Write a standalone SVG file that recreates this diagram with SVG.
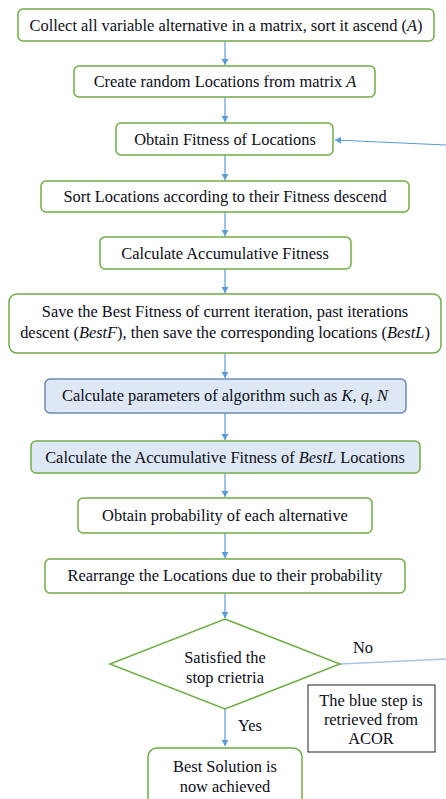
<svg xmlns="http://www.w3.org/2000/svg" width="446" height="799" viewBox="0 0 446 799">
<defs>
<marker id="ah" markerWidth="8" markerHeight="8" refX="6" refY="3.5" orient="auto" markerUnits="userSpaceOnUse">
<path d="M0,0 L6,3.5 L0,7 Z" fill="#5B9BD5"/>
</marker>
<style>
.box{fill:#FFFFFF;stroke:#70AD47;stroke-width:1.5}
.blue{fill:#DEE8F5;stroke:#6A8BB8;stroke-width:1.5}
.bluegreen{fill:#DEE8F5;stroke:#70AD47;stroke-width:1.5}
.t{font-family:'Liberation Serif','DejaVu Serif',serif;font-size:16.4px;fill:#0D0D1A;text-anchor:middle}
.c{stroke:#5B9BD5;stroke-width:1.2;fill:none}
</style>
</defs>
<rect width="446" height="799" fill="#FFFFFF"/>
<g id="connectors">
<line class="c" x1="225" y1="41" x2="225" y2="65" marker-end="url(#ah)"/>
<line class="c" x1="225" y1="97" x2="225" y2="122" marker-end="url(#ah)"/>
<line class="c" x1="446" y1="145" x2="335" y2="140" marker-end="url(#ah)"/>
<line class="c" x1="225" y1="155" x2="225" y2="180" marker-end="url(#ah)"/>
<line class="c" x1="225" y1="212" x2="225" y2="236" marker-end="url(#ah)"/>
<line class="c" x1="225" y1="269" x2="225" y2="293" marker-end="url(#ah)"/>
<line class="c" x1="225" y1="353" x2="225" y2="378" marker-end="url(#ah)"/>
<line class="c" x1="225" y1="413" x2="225" y2="440" marker-end="url(#ah)"/>
<line class="c" x1="225" y1="473" x2="225" y2="497" marker-end="url(#ah)"/>
<line class="c" x1="225" y1="533" x2="225" y2="558" marker-end="url(#ah)"/>
<line class="c" x1="225" y1="593" x2="225" y2="618" marker-end="url(#ah)"/>
<line class="c" x1="225" y1="709" x2="225" y2="746" marker-end="url(#ah)"/>
<line x1="340" y1="664" x2="446" y2="659" stroke="#A9C4E8" stroke-width="1.5"/>
<text class="t" x="363" y="653">No</text>
<text class="t" x="250" y="731">Yes</text>
</g>
<g id="n1">
<rect class="box" x="18" y="9" width="416" height="32" rx="5"/>
<text class="t" x="226" y="31">Collect all variable alternative in a matrix, sort it ascend (<tspan font-style="italic">A</tspan>)</text>
</g>
<g id="n2">
<rect class="box" x="74" y="66" width="301" height="31" rx="5"/>
<text class="t" x="225" y="87">Create random Locations from matrix <tspan font-style="italic">A</tspan></text>
</g>
<g id="n3">
<rect class="box" x="116" y="123" width="217" height="32" rx="5"/>
<text class="t" x="225" y="145">Obtain Fitness of Locations</text>
</g>
<g id="n4">
<rect class="box" x="41" y="181" width="368" height="31" rx="5"/>
<text class="t" x="225" y="202">Sort Locations according to their Fitness descend</text>
</g>
<g id="n5">
<rect class="box" x="100" y="237" width="251" height="32" rx="5"/>
<text class="t" x="225" y="259">Calculate Accumulative Fitness</text>
</g>
<g id="n6">
<rect class="box" x="9" y="294" width="432" height="59" rx="8"/>
<text class="t" x="225" y="317">Save the Best Fitness of current iteration, past iterations</text>
<text class="t" x="225" y="338">descent (<tspan font-style="italic">BestF</tspan>), then save the corresponding locations (<tspan font-style="italic">BestL</tspan>)</text>
</g>
<g id="n7">
<rect class="blue" x="45" y="379" width="361" height="34" rx="5"/>
<text class="t" x="225" y="401">Calculate parameters of algorithm such as <tspan font-style="italic">K</tspan>, <tspan font-style="italic">q</tspan>, <tspan font-style="italic">N</tspan></text>
</g>
<g id="n8">
<rect class="bluegreen" x="31" y="441" width="389" height="32" rx="5"/>
<text class="t" x="225" y="463">Calculate the Accumulative Fitness of <tspan font-style="italic">BestL</tspan> Locations</text>
</g>
<g id="n9">
<rect class="box" x="78" y="498" width="294" height="35" rx="5"/>
<text class="t" x="225" y="521">Obtain probability of each alternative</text>
</g>
<g id="n10">
<rect class="box" x="45" y="559" width="360" height="34" rx="5"/>
<text class="t" x="225" y="581">Rearrange the Locations due to their probability</text>
</g>
<g id="n11">
<polygon points="225,619 340,664 225,709 110,664" fill="#FFFFFF" stroke="#70AD47" stroke-width="1.5"/>
<text class="t" x="225" y="663">Satisfied the</text>
<text class="t" x="225" y="683">stop crietria</text>
</g>
<g id="n12">
<rect x="308" y="685" width="127" height="67" fill="#FFFFFF" stroke="#222222" stroke-width="1"/>
<text class="t" x="371" y="706">The blue step is</text>
<text class="t" x="371" y="725">retrieved from</text>
<text class="t" x="371" y="744">ACOR</text>
</g>
<g id="n13">
<rect class="box" x="148" y="748" width="154" height="60" rx="9"/>
<text class="t" x="225" y="772">Best Solution is</text>
<text class="t" x="225" y="792">now achieved</text>
</g>
</svg>
